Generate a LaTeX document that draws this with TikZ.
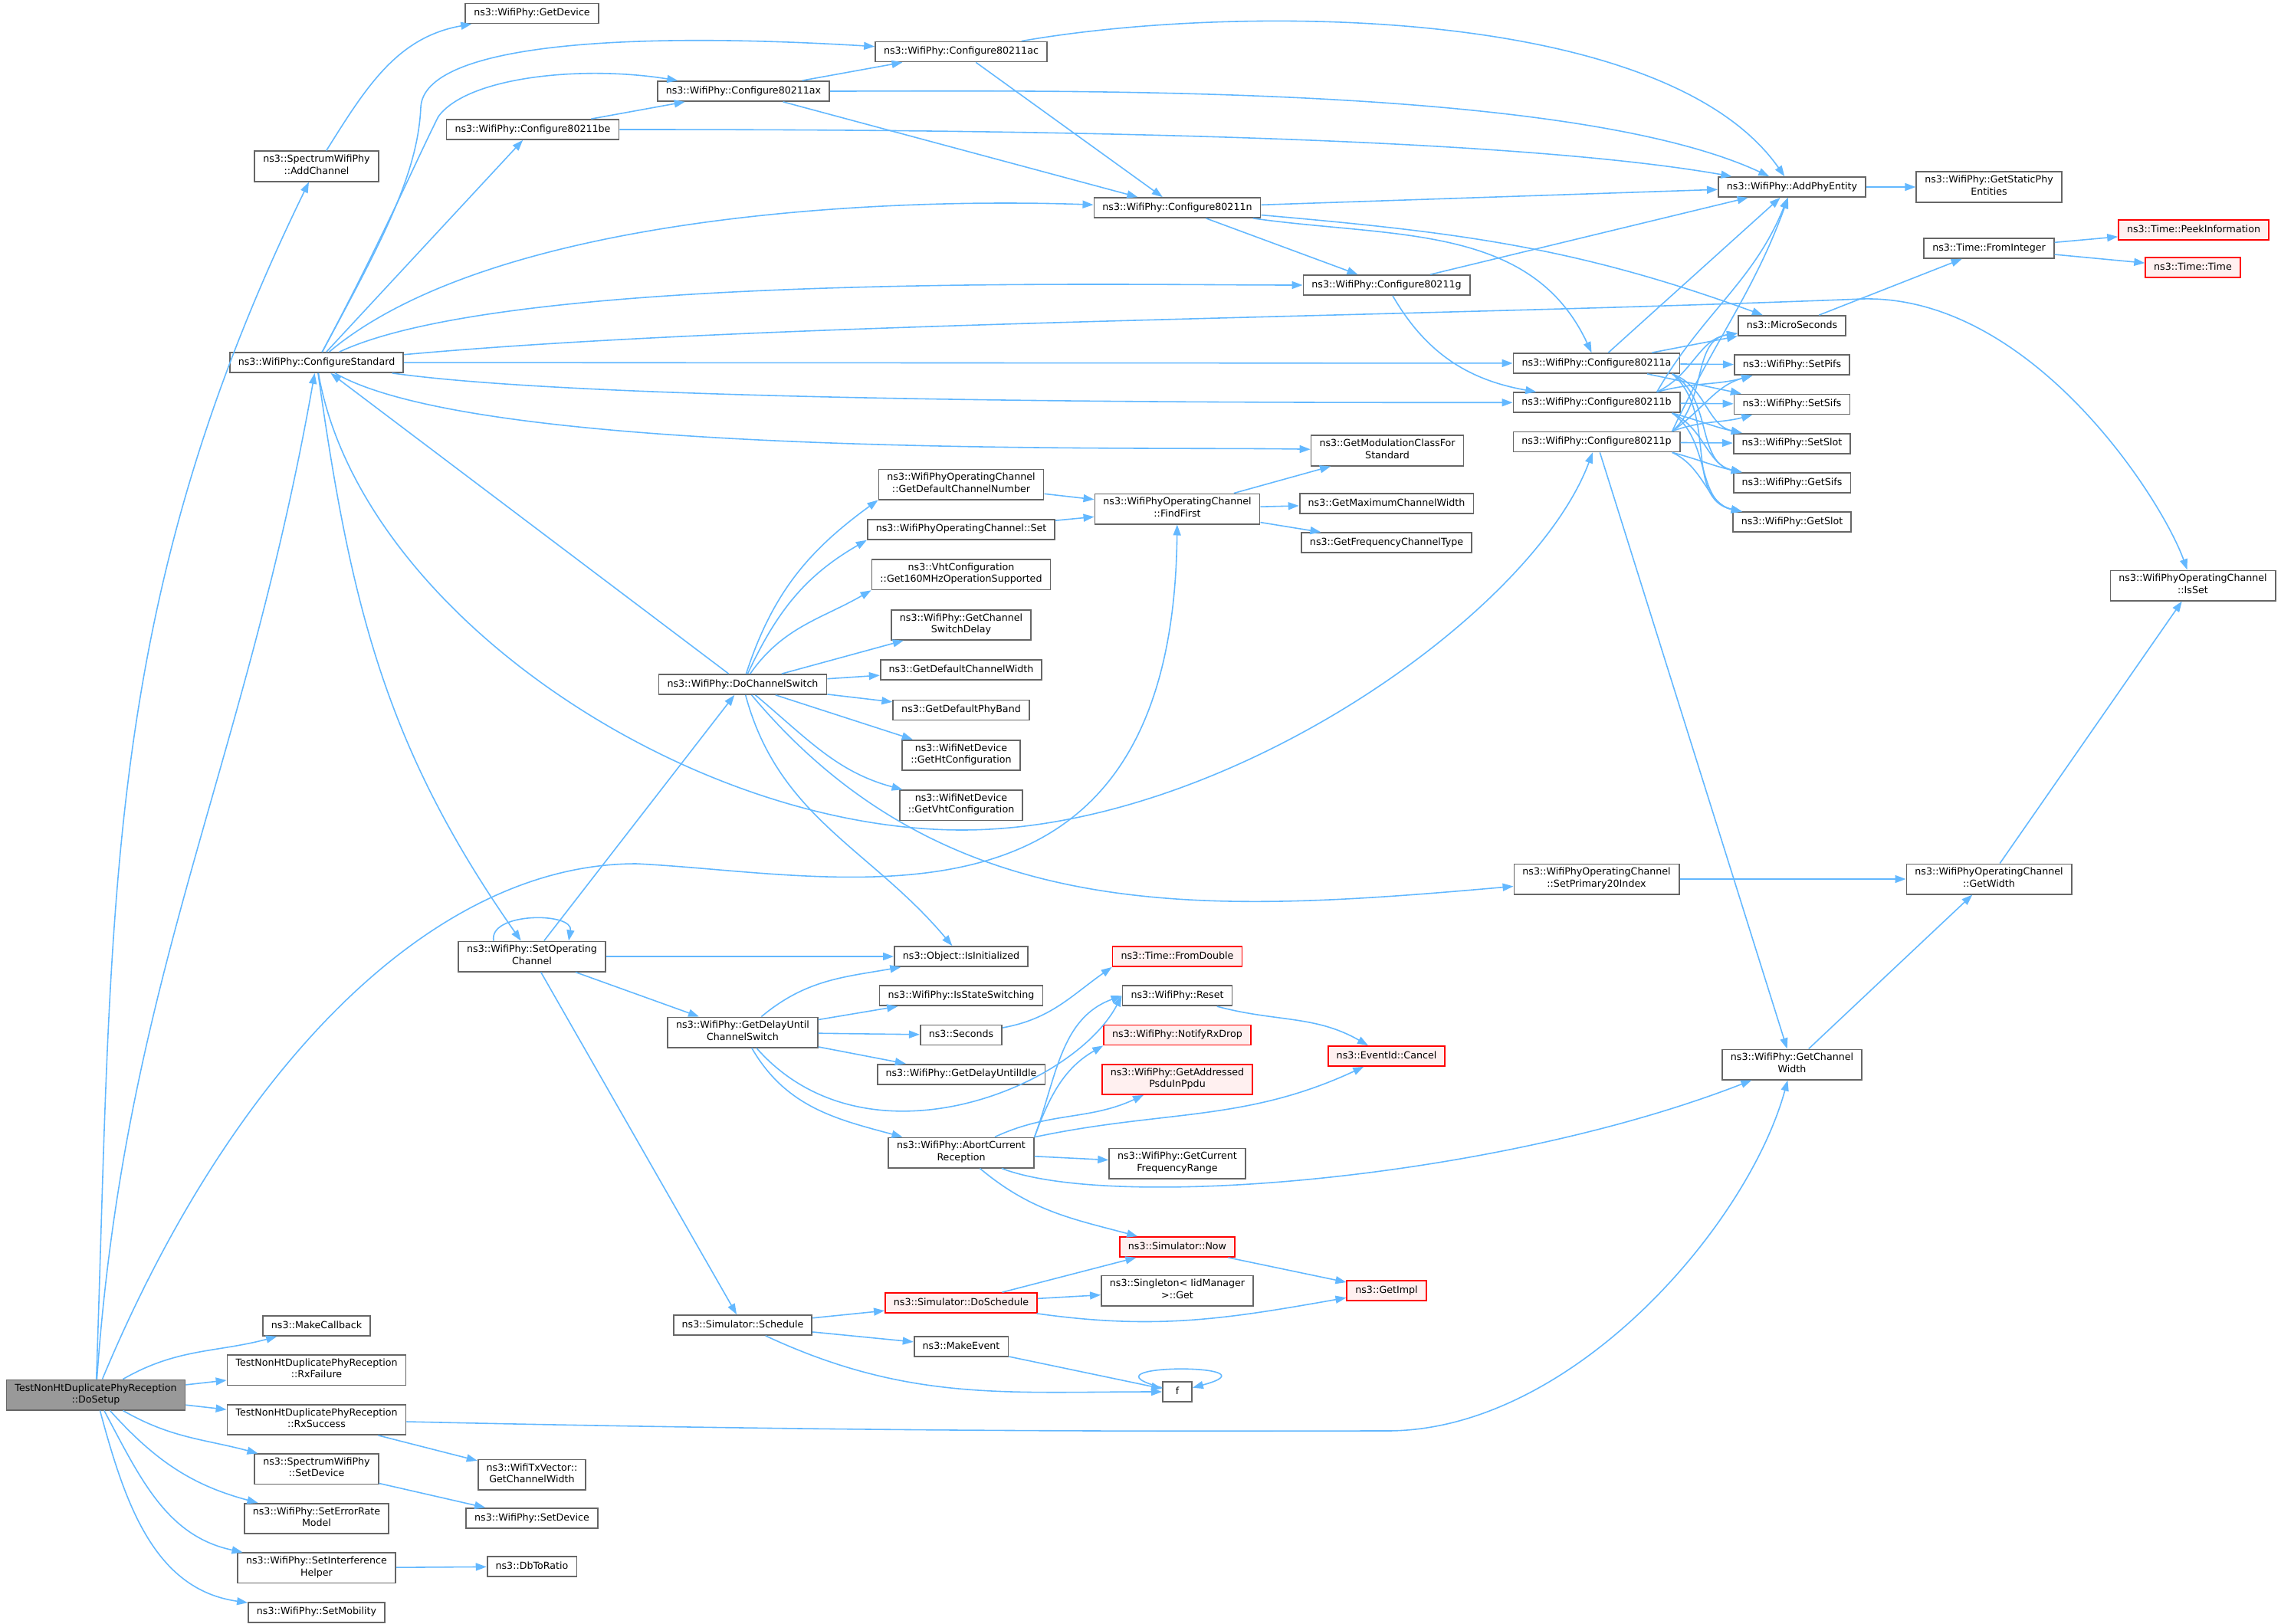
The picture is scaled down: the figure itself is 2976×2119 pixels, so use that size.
\documentclass[tikz,border=0pt]{standalone}
\usepackage{fontspec}
\setmainfont{DejaVu Sans}
\usepackage{tikz}
\usetikzlibrary{arrows.meta,positioning}
\definecolor{linkblue}{HTML}{63B8FF}
\definecolor{boxgrey}{HTML}{666666}
\definecolor{pinkfill}{HTML}{FFF0F0}
\definecolor{rootgrey}{HTML}{999999}

\begin{document}
\begin{tikzpicture}[->,>={Triangle[length=0.28cm,width=0.2cm]},line width=0.9pt,
                    x=0.02cm,y=-0.02cm,node distance=0.47cm,
                    every edge/.style={draw=linkblue},
                    calllink/.style={draw=linkblue},
                    fnbox/.style={draw=boxgrey,fill=white,line width=1pt,align=center,
                                  minimum height=0.52cm,inner xsep=0.22cm,inner ysep=0.1cm,
                                  font=\fontsize{7.2}{8.6}\selectfont,
                                  execute at begin node=\strut,execute at end node=\strut},
                    fnred/.style={fnbox,draw=red,fill=pinkfill},
                    fnroot/.style={fnbox,fill=rootgrey}]
  \useasboundingbox (0,0) rectangle (2976,2119);

  % left part
  \node[fnroot] (setup)  at (125,1820)  {TestNonHtDuplicatePhyReception\\::DoSetup};
  \node[fnbox]  (addCh)  at (413,217)   {ns3::SpectrumWifiPhy\\::AddChannel};
  \node[fnbox]  (getDev) at (694,17.5)  {ns3::WifiPhy::GetDevice};
  \node[fnbox]  (cfgStd) at (413,473)   {ns3::WifiPhy::ConfigureStandard};
  \node[fnbox]  (cfgBe)  at (695,169)   {ns3::WifiPhy::Configure80211be};
  \node[fnbox]  (cfgAx)  at (970,119)   {ns3::WifiPhy::Configure80211ax};
  \node[fnbox]  (cfgAc)  at (1254,67.5) {ns3::WifiPhy::Configure80211ac};
  \node[fnbox]  (cfgN)   at (1536,271)  {ns3::WifiPhy::Configure80211n};
  \node[fnbox]  (cfgG)   at (1809,372)  {ns3::WifiPhy::Configure80211g};
  \node[fnbox]  (cfgA)   at (2083,474)  {ns3::WifiPhy::Configure80211a};
  \node[fnbox]  (cfgB)   [below=of cfgA] {ns3::WifiPhy::Configure80211b};
  \node[fnbox]  (cfgP)   [below=of cfgB] {ns3::WifiPhy::Configure80211p};

  % right part
  \node[fnbox] (addPhy)    at (2338,244) {ns3::WifiPhy::AddPhyEntity};
  \node[fnbox] (staticPhy) at (2595,244) {ns3::WifiPhy::GetStaticPhy\\Entities};
  \node[fnred] (peek)      at (2862,300) {ns3::Time::PeekInformation};
  \node[fnbox] (fromInt)   at (2595,324) {ns3::Time::FromInteger};
  \node[fnred] (timeTime)  at (2861,349) {ns3::Time::Time};
  \node[fnbox] (micro)     at (2338,425) {ns3::MicroSeconds};
  \node[fnbox] (setPifs) [below=of micro]   {ns3::WifiPhy::SetPifs};
  \node[fnbox] (setSifs) [below=of setPifs] {ns3::WifiPhy::SetSifs};
  \node[fnbox] (setSlot) [below=of setSifs] {ns3::WifiPhy::SetSlot};
  \node[fnbox] (getSifs) [below=of setSlot] {ns3::WifiPhy::GetSifs};
  \node[fnbox] (getSlot) [below=of getSifs] {ns3::WifiPhy::GetSlot};
  \node[fnbox] (isSet)    at (2861,764)  {ns3::WifiPhyOperatingChannel\\::IsSet};
  \node[fnbox] (setPrim)  at (2083,1147) {ns3::WifiPhyOperatingChannel\\::SetPrimary20Index};
  \node[fnbox] (getWidth) at (2595,1147) {ns3::WifiPhyOperatingChannel\\::GetWidth};
  \node[fnbox] (chWidth)  at (2338,1389) {ns3::WifiPhy::GetChannel\\Width};

  % channel switch
  \node[fnbox] (modClass)  at (1810,588) {ns3::GetModulationClassFor\\Standard};
  \node[fnbox] (findFirst) at (1536,664) {ns3::WifiPhyOperatingChannel\\::FindFirst};
  \node[fnbox] (maxWidth)  at (1809,657) {ns3::GetMaximumChannelWidth};
  \node[fnbox] (freqType)  [below=of maxWidth] {ns3::GetFrequencyChannelType};
  \node[fnbox] (defChNum)  at (1254,632) {ns3::WifiPhyOperatingChannel\\::GetDefaultChannelNumber};
  \node[fnbox] (opSet)    [below=0.49cm of defChNum] {ns3::WifiPhyOperatingChannel::Set};
  \node[fnbox] (vht160)   [below=0.49cm of opSet]    {ns3::VhtConfiguration\\::Get160MHzOperationSupported};
  \node[fnbox] (swDelay)  [below=0.49cm of vht160]   {ns3::WifiPhy::GetChannel\\SwitchDelay};
  \node[fnbox] (defWidth) [below=0.49cm of swDelay]  {ns3::GetDefaultChannelWidth};
  \node[fnbox] (defBand)  [below=0.49cm of defWidth] {ns3::GetDefaultPhyBand};
  \node[fnbox] (htCfg)    [below=0.49cm of defBand]  {ns3::WifiNetDevice\\::GetHtConfiguration};
  \node[fnbox] (vhtCfg)   [below=0.49cm of htCfg]    {ns3::WifiNetDevice\\::GetVhtConfiguration};
  \node[fnbox] (doSwitch) at (969,893)   {ns3::WifiPhy::DoChannelSwitch};
  \node[fnbox] (setOpCh)  at (694,1248)  {ns3::WifiPhy::SetOperating\\Channel};
  \node[fnbox] (isInit)   at (1254,1248) {ns3::Object::IsInitialized};
  \node[fnbox] (isSw)      [below=of isInit]  {ns3::WifiPhy::IsStateSwitching};
  \node[fnbox] (seconds)   [below=of isSw]    {ns3::Seconds};
  \node[fnbox] (delayIdle) [below=of seconds] {ns3::WifiPhy::GetDelayUntilIdle};
  \node[fnbox] (delaySw)  at (969,1347)  {ns3::WifiPhy::GetDelayUntil\\ChannelSwitch};
  \node[fnred] (fromDbl)  at (1536,1248) {ns3::Time::FromDouble};
  \node[fnbox] (reset)   [below=of fromDbl] {ns3::WifiPhy::Reset};
  \node[fnred] (rxDrop)  [below=of reset]   {ns3::WifiPhy::NotifyRxDrop};
  \node[fnred] (psdu)    [below=of rxDrop]  {ns3::WifiPhy::GetAddressed\\PsduInPpdu};
  \node[fnred] (cancel)   at (1809,1378) {ns3::EventId::Cancel};
  \node[fnbox] (abortRx)  at (1254,1504) {ns3::WifiPhy::AbortCurrent\\Reception};
  \node[fnbox] (freqRange) at (1536,1518) {ns3::WifiPhy::GetCurrent\\FrequencyRange};

  % scheduling
  \node[fnred] (simNow)    at (1536,1627) {ns3::Simulator::Now};
  \node[fnbox] (singleton) at (1536,1684) {ns3::Singleton< IidManager\\>::Get};
  \node[fnred] (getImpl)   at (1809,1684) {ns3::GetImpl};
  \node[fnred] (doSched)   at (1254,1700) {ns3::Simulator::DoSchedule};
  \node[fnbox] (schedule)  at (969,1729)  {ns3::Simulator::Schedule};
  \node[fnbox] (makeEv)    at (1254,1757) {ns3::MakeEvent};
  \node[fnbox,minimum width=0.76cm] (fnF) at (1536,1816) {f};

  % test callbacks
  \node[fnbox] (makeCb)     at (413,1730) {ns3::MakeCallback};
  \node[fnbox] (rxFail)     [below=of makeCb]     {TestNonHtDuplicatePhyReception\\::RxFailure};
  \node[fnbox] (rxSucc)     [below=of rxFail]     {TestNonHtDuplicatePhyReception\\::RxSuccess};
  \node[fnbox] (specSetDev) [below=of rxSucc]     {ns3::SpectrumWifiPhy\\::SetDevice};
  \node[fnbox] (errModel)   [below=of specSetDev] {ns3::WifiPhy::SetErrorRate\\Model};
  \node[fnbox] (interf)     [below=of errModel]   {ns3::WifiPhy::SetInterference\\Helper};
  \node[fnbox] (mobility)   [below=of interf]     {ns3::WifiPhy::SetMobility};
  \node[fnbox] (txVecW)     at (694,1924) {ns3::WifiTxVector::\\GetChannelWidth};
  \node[fnbox] (phySetDev)  at (694,1981) {ns3::WifiPhy::SetDevice};
  \node[fnbox] (dbRatio)    at (694,2044) {ns3::DbToRatio};

  \coordinate (viaFF) at (830,1127);
  \coordinate (viaP)  at (1255,1083);
  \coordinate (viaCW) at (1810,1867);
  \coordinate (viaAc) at (549,140);
  \coordinate (viaAx) at (572,152);
  \coordinate (viaIs) at (2430,390);

  % DoSetup
  \path (setup) edge [out=88,in=-116]  (addCh)
                edge [out=86,in=-100]  (cfgStd)
                edge [out=30,in=-165]  (makeCb)
                edge                   (rxFail)
                edge                   (rxSucc)
                edge [out=-30,in=165]  (specSetDev)
                edge [out=-48,in=165]  (errModel)
                edge [out=-62,in=168]  (interf)
                edge [out=-75,in=172]  (mobility);
  \draw[calllink] (setup) .. controls (300,1400) and (560,1127) .. (viaFF)
                          .. controls (1100,1140) and (1530,1250) .. (findFirst);
  \path (addCh) edge [out=58,in=-170] (getDev);
  \path (rxSucc) edge (txVecW);
  \draw[calllink] (rxSucc) .. controls (1200,1870) and (1600,1867) .. (viaCW)
                           .. controls (2050,1867) and (2280,1600) .. (chWidth);
  \path (specSetDev) edge (phySetDev);
  \path (interf) edge (dbRatio);

  % ConfigureStandard
  \draw[calllink] (cfgStd) .. controls (495,320) and (545,230) .. (viaAc)
                           .. controls (553,60) and (800,40) .. (cfgAc);
  \draw[calllink] (cfgStd) .. controls (500,310) and (545,205) .. (viaAx)
                           .. controls (610,100) and (760,85) .. (cfgAx);
  \path (cfgStd) edge                                  (cfgBe)
                 edge [out=40,in=178,looseness=0.7]    (cfgN)
                 edge [out=25,in=180,looseness=0.5]    (cfgG)
                 edge                                  (cfgA)
                 edge [out=-8,in=180,looseness=0.5]    (cfgB)
                 edge [out=-30,in=179,looseness=0.45]  (modClass)
                 edge [out=-82,in=125]                 (setOpCh);
  \draw[calllink] (cfgStd) .. controls (1000,420) and (1800,415) .. (viaIs)
                           .. controls (2650,385) and (2820,650) .. (isSet);
  \draw[calllink] (cfgStd) .. controls (470,800) and (900,1083) .. (viaP)
                           .. controls (1600,1083) and (2000,800) .. (cfgP);

  % standards
  \path (cfgBe) edge (cfgAx)
                edge [out=0,in=170,looseness=0.6] (addPhy);
  \path (cfgAx) edge (cfgAc)
                edge [out=0,in=155,looseness=0.6] (addPhy)
                edge (cfgN);
  \path (cfgAc) edge [out=10,in=125,looseness=0.7] (addPhy)
                edge (cfgN);
  \path (cfgN) edge (addPhy)
               edge (cfgG)
               edge [out=-5,in=160] (micro)
               edge [out=-8,in=115] (cfgA);
  \path (cfgG) edge (addPhy)
               edge [out=-60,in=170] (cfgB);

  \path (cfgA) edge (addPhy)
               edge (micro)
               edge (setPifs)
               edge (setSifs);
  \path (cfgA.-8) edge [out=-20,in=168] (setSlot)
                  edge [out=-30,in=168] (getSifs)
                  edge [out=-40,in=168] (getSlot);
  \path (cfgB.10) edge [out=60,in=-112] (addPhy)
                  edge [out=25,in=-172] (micro)
                  edge [out=15,in=-165] (setPifs);
  \path (cfgB) edge (setSifs);
  \path (cfgB.-8) edge [out=-15,in=168] (setSlot)
                  edge [out=-25,in=168] (getSifs)
                  edge [out=-35,in=168] (getSlot);
  \path (cfgP.8) edge [out=65,in=-110] (addPhy)
                 edge [out=40,in=-172] (micro)
                 edge [out=35,in=-165] (setPifs)
                 edge [out=20,in=-165] (setSifs);
  \path (cfgP) edge (setSlot)
               edge (chWidth);
  \path (cfgP.-8) edge [out=-15,in=168] (getSifs)
                  edge [out=-25,in=168] (getSlot);

  \path (addPhy) edge (staticPhy);
  \path (micro) edge (fromInt);
  \path (fromInt) edge (peek)
                  edge (timeTime);
  \path (setPrim) edge (getWidth);
  \path (chWidth) edge (getWidth);
  \path (getWidth) edge (isSet);

  % DoChannelSwitch
  \path (defChNum) edge (findFirst);
  \path (opSet) edge (findFirst);
  \path (findFirst) edge (modClass)
                    edge (maxWidth)
                    edge (freqType);
  \path (doSwitch) edge [out=72,in=-144] (defChNum.south west)
                   edge [out=65,in=-150] (opSet.south west)
                   edge [out=55,in=-150] (vht160.south west)
                   edge                  (swDelay)
                   edge                  (defWidth)
                   edge                  (defBand)
                   edge                  (htCfg)
                   edge [out=-40,in=165] (vhtCfg)
                   edge [out=-75,in=130] (isInit)
                   edge [out=-50,in=185] (setPrim)
                   edge                  (cfgStd);

  % SetOperatingChannel
  \path (setOpCh) edge (doSwitch)
                  edge (isInit)
                  edge (delaySw)
                  edge (schedule);
  \path ([xshift=-1cm]setOpCh.north) edge [out=100,in=80,looseness=1] ([xshift=0.96cm]setOpCh.north);

  \path (delaySw) edge [out=40,in=-170] (isInit)
                  edge (isSw)
                  edge (seconds)
                  edge (delayIdle)
                  edge [out=-60,in=165] (abortRx);
  \draw[calllink] (delaySw) .. controls (1130,1530) and (1400,1420) .. (reset.west);

  \path (abortRx.north east) edge [out=70,in=-160] (reset.west)
                             edge [out=70,in=-150] (rxDrop.south west);
  \path (abortRx) edge [out=25,in=-155] (psdu)
                  edge [out=12,in=-155] (cancel)
                  edge                  (freqRange)
                  edge [out=-40,in=165] (simNow);
  \draw[calllink] (abortRx) .. controls (1450,1580) and (1950,1540) .. (chWidth);
  \path (seconds) edge [out=10,in=-145] (fromDbl.south west);
  \path (reset) edge [out=-15,in=150] (cancel);

  % Schedule
  \path (schedule) edge (doSched)
                   edge (makeEv)
                   edge [out=-25,in=180] (fnF);
  \path (doSched) edge (simNow)
                  edge (singleton)
                  edge [out=-8,in=-170] (getImpl);
  \path (simNow) edge (getImpl);
  \path (makeEv) edge (fnF);
  \path (fnF.165) edge [out=165,in=15,looseness=8] (fnF.15);
\end{tikzpicture}
\end{document}
